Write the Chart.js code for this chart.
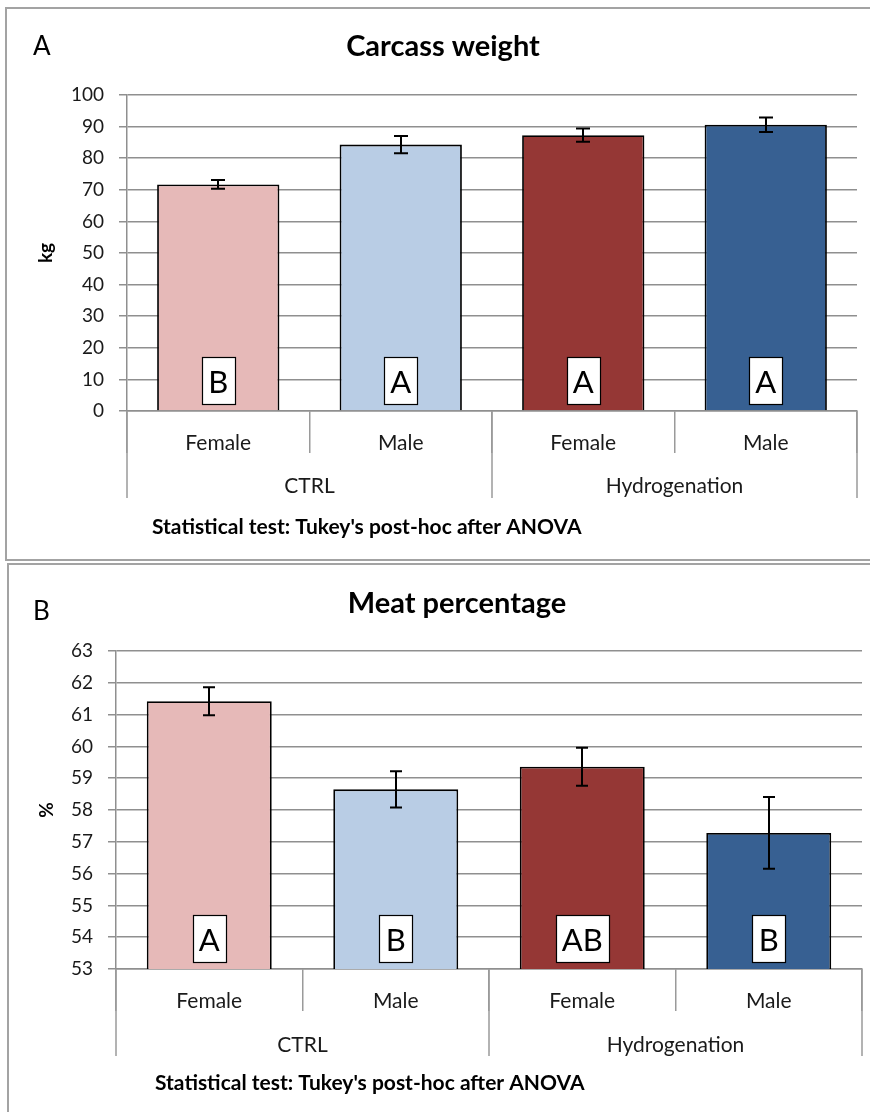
<!DOCTYPE html>
<html>
<head>
<meta charset="utf-8">
<script src="https://cdn.jsdelivr.net/npm/chart.js@4.4.1/dist/chart.umd.min.js"></script>
<style>
  html, body { margin: 0; padding: 0; background: #fff; width: 870px; height: 1112px; overflow: hidden; }
  .panel { position: absolute; border: 2px solid #a3a3a3; box-sizing: border-box; }
  #panelA { left: 5px; top: 7px; width: 900px; height: 554px; }
  #panelB { left: 7px; top: 563px; width: 900px; height: 620px; }
  .wrap { position: absolute; left: 0; width: 870px; }
  #wrapA { top: 0; height: 560px; }
  #wrapB { top: 560px; height: 552px; }
  canvas { display: block; }
</style>
</head>
<body>
<div class="panel" id="panelA"></div>
<div class="panel" id="panelB"></div>
<div class="wrap" id="wrapA"><canvas id="chartA" width="870" height="560"></canvas></div>
<div class="wrap" id="wrapB"><canvas id="chartB" width="870" height="552"></canvas></div>

<script>
// Categories: sex within each treatment group
const subgroups = ['Female', 'Male', 'Female', 'Male'];
const groups = ['CTRL', 'Hydrogenation'];
const barColors = ['#E6B9B8', '#B9CDE5', '#953735', '#376092'];
const note = "Statistical test: Tukey's post-hoc after ANOVA";

// Carcass weight (kg): means, error half-widths, Tukey letters
const carcassMeans = [71.7, 84.3, 87.3, 90.6];
const carcassErrors = [1.4, 2.7, 2.1, 2.3];
const carcassLetters = ['B', 'A', 'A', 'A'];
const carcassAxis = [0, 100, 10]; // min, max, step

// Meat percentage (%): means, error half-widths, Tukey letters
const meatMeans = [61.42, 58.65, 59.36, 57.28];
const meatErrors = [0.44, 0.57, 0.60, 1.13];
const meatLetters = ['A', 'B', 'AB', 'B'];
const meatAxis = [53, 63, 1];

const FONT = 'Lato, "Open Sans", "DejaVu Sans", sans-serif';
const GRID = '#8f8f8f';

function makeChart(canvasId, spec) {
  // error bars + letter boxes sitting at the foot of each bar
  const marks = {
    id: 'marks',
    afterDatasetsDraw(chart) {
      const { ctx, chartArea, scales: { y } } = chart;
      const meta = chart.getDatasetMeta(0);
      const vals = chart.data.datasets[0].data;
      ctx.save();
      meta.data.forEach((bar, i) => {
        ctx.font = `31px ${FONT}`;
        const txt = spec.letters[i];
        const w = Math.round(Math.max(33, ctx.measureText(txt).width + 12));
        const h = 47;
        const bx = Math.round(bar.x - w / 2) + 0.5;
        const by = Math.round(chartArea.bottom - 7 - h) + 0.5;
        ctx.fillStyle = '#fff';
        ctx.fillRect(bx, by, w, h);
        ctx.strokeStyle = '#000';
        ctx.lineWidth = 1.2;
        ctx.strokeRect(bx, by, w, h);
        ctx.fillStyle = '#000';
        ctx.textAlign = 'center';
        ctx.textBaseline = 'middle';
        ctx.fillText(txt, bar.x, by + h / 2 + 2);

        const top = y.getPixelForValue(vals[i] + spec.errors[i]);
        const bot = y.getPixelForValue(vals[i] - spec.errors[i]);
        const cx = Math.round(bar.x);
        ctx.strokeStyle = '#000';
        ctx.lineWidth = 2;
        ctx.beginPath();
        ctx.moveTo(cx, top); ctx.lineTo(cx, bot);
        ctx.moveTo(cx - spec.cap, top); ctx.lineTo(cx + spec.cap, top);
        ctx.moveTo(cx - spec.cap, bot); ctx.lineTo(cx + spec.cap, bot);
        ctx.stroke();
      });
      ctx.restore();
    }
  };

  // panel letter, title, second axis level (treatment groups) and footnote
  const panelText = {
    id: 'panelText',
    afterDraw(chart) {
      const { ctx, chartArea, scales: { x } } = chart;
      ctx.save();
      ctx.textBaseline = 'middle';
      ctx.fillStyle = '#000';
      ctx.font = `26px ${FONT}`;
      ctx.textAlign = 'left';
      ctx.fillText(spec.panel, spec.panelX, spec.panelY);
      ctx.font = `bold 29px ${FONT}`;
      ctx.textAlign = 'center';
      ctx.fillText(spec.title, spec.titleX, spec.titleY);

      ctx.strokeStyle = '#9a9a9a';
      ctx.lineWidth = 1.5;
      const yb = chartArea.bottom;
      [-0.5, 1.5, 3.5].forEach(v => {
        const px = Math.round(x.getPixelForValue(v));
        ctx.beginPath();
        ctx.moveTo(px, yb);
        ctx.lineTo(px, yb + spec.groupDepth);
        ctx.stroke();
      });
      ctx.font = `21px ${FONT}`;
      ctx.fillStyle = '#1a1a1a';
      groups.forEach((g, i) => ctx.fillText(g, x.getPixelForValue(i * 2 + 0.5), spec.groupY));

      ctx.font = `bold 21px ${FONT}`;
      ctx.textAlign = 'left';
      ctx.fillStyle = '#000';
      ctx.fillText(note, spec.noteX, spec.noteY);
      ctx.restore();
    }
  };

  return new Chart(document.getElementById(canvasId), {
    type: 'bar',
    data: {
      labels: subgroups,
      datasets: [{
        data: spec.means,
        backgroundColor: barColors,
        borderColor: '#000',
        borderWidth: 1.8,
        barPercentage: 0.67,
        categoryPercentage: 1
      }]
    },
    options: {
      responsive: false,
      animation: false,
      devicePixelRatio: 1,
      layout: { padding: { top: spec.top, right: spec.width - spec.right, left: 0, bottom: 0 } },
      plugins: { legend: { display: false }, tooltip: { enabled: false }, title: { display: false } },
      scales: {
        x: {
          type: 'category',
          grid: { offset: true, drawOnChartArea: false, tickLength: 42, color: '#9a9a9a', lineWidth: 1.5 },
          border: { color: GRID, width: 1.5 },
          ticks: { padding: -22, font: { family: FONT, size: 21 }, color: '#1a1a1a', maxRotation: 0, autoSkip: false },
          afterFit(s) { s.height = spec.height - spec.bottom; }
        },
        y: {
          min: spec.axis[0],
          max: spec.axis[1],
          ticks: { stepSize: spec.axis[2], padding: 15, font: { family: FONT, size: 19 }, color: '#1a1a1a' },
          grid: { color: GRID, lineWidth: 1.5, tickLength: 8 },
          border: { color: GRID, width: 1.5 },
          title: { display: true, text: spec.unit, color: '#000', font: { family: FONT, size: 19, weight: 'bold' }, padding: { top: spec.unitPad, bottom: 0 } },
          afterFit(s) { s.width = spec.left; }
        }
      }
    },
    plugins: [marks, panelText]
  });
}

makeChart('chartA', {
  means: carcassMeans, errors: carcassErrors, letters: carcassLetters, axis: carcassAxis,
  unit: 'kg', unitPad: 34, panel: 'A', title: 'Carcass weight',
  width: 870, height: 560, top: 95, bottom: 411, left: 127, right: 857,
  panelX: 33, panelY: 47, titleX: 443, titleY: 47,
  groupDepth: 87, groupY: 486, noteX: 152, noteY: 527, cap: 7
});

makeChart('chartB', {
  means: meatMeans, errors: meatErrors, letters: meatLetters, axis: meatAxis,
  unit: '%', unitPad: 35, panel: 'B', title: 'Meat percentage',
  width: 870, height: 552, top: 91, bottom: 409, left: 116, right: 862,
  panelX: 33, panelY: 52, titleX: 457, titleY: 44,
  groupDepth: 87, groupY: 485, noteX: 155, noteY: 523, cap: 6
});
</script>
</body>
</html>
